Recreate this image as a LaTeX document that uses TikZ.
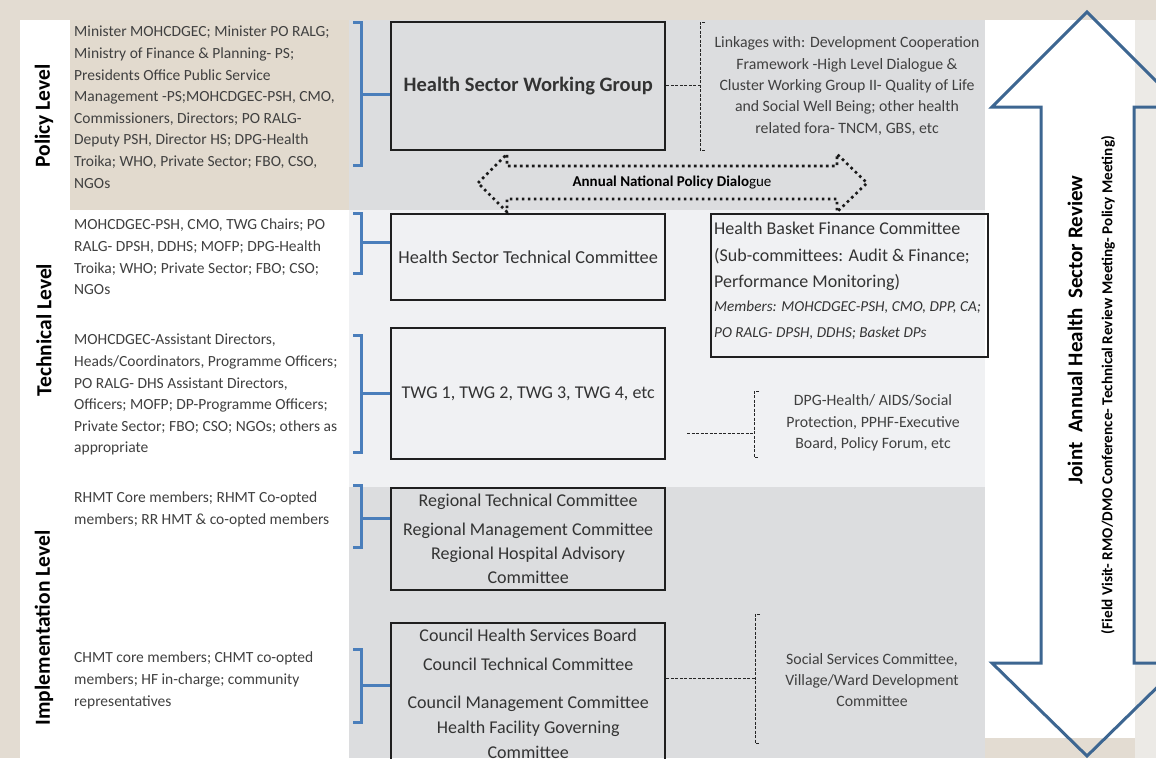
\documentclass[tikz,border=0pt]{standalone}
\usepackage{fontspec}
\setmainfont{Carlito}
\usetikzlibrary{positioning}

\definecolor{paper}{HTML}{E3DCD2}
\definecolor{photo}{HTML}{ECEAE6}
\definecolor{beige}{HTML}{E2DACE}
\definecolor{greyband}{HTML}{DCDDDF}
\definecolor{paleband}{HTML}{F0F1F3}
\definecolor{brkblue}{HTML}{4A7EBB}
\definecolor{arrowblue}{HTML}{3D6691}
\definecolor{ink}{HTML}{404040}

\begin{document}
\begin{tikzpicture}[x=1pt,y=-1pt,
  members/.style={anchor=north west,inner sep=0,align=left,text=ink,font=\fontsize{15.5}{21.6}\selectfont},
  level/.style={rotate=90,inner sep=0,font=\fontsize{21.5}{22}\selectfont\bfseries},
  forum/.style={draw=black!88,line width=2.4pt,anchor=north west,inner sep=0,minimum width=274pt,align=center,text=black!80},
  brk/.style={brkblue,line width=3pt},
  link/.style={black!85,thin,dash pattern=on 3pt off 1.5pt},
  linktext/.style={align=center,inner sep=0,text=ink,font=\fontsize{15.8}{21.4}\selectfont}]
  \useasboundingbox (0,0) rectangle (1156,758);
  % backdrop and the three level bands
  \fill[paper] (0,0) rectangle (1156,758);
  \fill[photo] (1135,20) rectangle (1156,758);
  \fill[white] (20,20) rectangle (70,758);
  \fill[beige] (70,20) rectangle (349,210);
  \fill[white] (70,210) rectangle (349,758);
  \fill[greyband] (349,20) rectangle (985,210);
  \fill[paleband] (349,210) rectangle (985,487);
  \fill[greyband] (349,487) rectangle (985,758);
  \fill[white] (985,20) rectangle (1135,738);

  % level names
  \node[level] (policy) at (44,116) {Policy Level};
  \node[level] (technical) at (44,330) {Technical Level};
  \node[level] (implementation) at (44,628) {Implementation Level};

  % who sits on what
  \node[members] (pm) at (74,26) {Minister MOHCDGEC; Minister PO RALG;\\Ministry of Finance \& Planning- PS;\\Presidents Office Public Service\\Management -PS;MOHCDGEC-PSH, CMO,\\Commissioners, Directors; PO RALG-\\Deputy PSH, Director HS; DPG-Health\\Troika; WHO, Private Sector; FBO, CSO,\\NGOs};
  \node[members] (tm1) at (74,219) {MOHCDGEC-PSH, CMO, TWG Chairs; PO\\RALG- DPSH, DDHS; MOFP; DPG-Health\\Troika; WHO; Private Sector; FBO; CSO;\\NGOs};
  \node[members] (tm2) at (74,334) {MOHCDGEC-Assistant Directors,\\Heads/Coordinators, Programme Officers;\\PO RALG- DHS Assistant Directors,\\Officers; MOFP; DP-Programme Officers;\\Private Sector; FBO; CSO; NGOs; others as\\appropriate};
  \node[members] (im1) at (74,492) {RHMT Core members; RHMT Co-opted\\members; RR HMT \& co-opted members};
  \node[members] (im2) at (74,652) {CHMT core members; CHMT co-opted\\members; HF in-charge; community\\representatives};

  % the forums
  \node[forum,minimum height=128pt,font=\fontsize{20.5}{22}\selectfont\bfseries] (hswg) at (390,21) {Health Sector Working Group};
  \node[forum,minimum height=86pt,font=\fontsize{18.3}{20}\selectfont] (hstc) at (390,213) {Health Sector Technical Committee};
  \node[forum,minimum height=131pt,font=\fontsize{18}{20}\selectfont] (twg) at (390,327) {TWG 1, TWG 2, TWG 3, TWG 4, etc};
  \node[forum,minimum height=102pt,font=\fontsize{18}{24}\selectfont] (rtc) at (390,487) {Regional Technical Committee\\[5pt]Regional Management Committee\\Regional Hospital Advisory\\Committee};
  \node[forum,minimum height=142pt,font=\fontsize{18}{25}\selectfont] (chsb) at (390,622) {Council Health Services Board\\[4pt]Council Technical Committee\\[13pt]Council Management Committee\\Health Facility Governing\\Committee};
  \node[draw=black!88,line width=2.4pt,anchor=north west,minimum width=277pt,minimum height=143pt,inner sep=0] (hbfc) at (710,213) {};
  \node[anchor=north west,align=left,inner sep=0,text=black!80,font=\fontsize{18}{26.5}\selectfont] (hbfctext) at (714,222) {Health Basket Finance Committee\\(Sub-committees: Audit \& Finance;\\Performance Monitoring)\\[-3pt]{\fontsize{15.2}{25}\selectfont\itshape Members: MOHCDGEC-PSH, CMO, DPP, CA;}\\{\fontsize{15.2}{25}\selectfont\itshape PO RALG- DPSH, DDHS; Basket DPs}};

  % blue brackets
  \foreach \nm/\ta/\tb/\ym in {p/22/165/94, t/213/273/242, w/335/452/393, r/485/547/518, c/649/722/685} {
    \draw[brk] (353,\ta) -- (361,\ta) -- (361,\tb) -- (353,\tb);
    \coordinate (brk\nm) at (361,\ym);
  }
  \draw[brk] (brkp) -- (brkp -| hswg.west);
  \draw[brk] (brkt) -- (brkt -| hstc.west);
  \draw[brk] (brkw) -- (brkw -| twg.west);
  \draw[brk] (brkr) -- (brkr -| rtc.west);
  \draw[brk] (brkc) -- (brkc -| chsb.west);

  % linkages
  \node[linktext] (lk1) at (847,86) {Linkages with: Development Cooperation\\Framework -High Level Dialogue \&\\Cluster Working Group II- Quality of Life\\and Social Well Being; other health\\related fora- TNCM, GBS, etc};
  \node[linktext] (lk2) at (873,423) {DPG-Health/ AIDS/Social\\Protection, PPHF-Executive\\Board, Policy Forum, etc};
  \node[linktext] (lk3) at (872,680) {Social Services Committee,\\Village/Ward Development\\Committee};
  \draw[link] (705,22) -- (700,22) -- (700,150) -- (705,150);
  \draw[link] (759,391) -- (754,391) -- (754,457) -- (759,457);
  \draw[link] (760,614) -- (755,614) -- (755,743) -- (760,743);
  \coordinate (lk1in) at (700,85);
  \coordinate (lk2in) at (754,433);
  \coordinate (lk2out) at (687,433);
  \coordinate (lk3in) at (755,678);
  \draw[link] (hswg.east |- lk1in) -- (lk1in);
  \draw[link] (lk2out) -- (lk2in);
  \draw[link] (chsb.east |- lk3in) -- (lk3in);

  % annual national policy dialogue
  \node[font=\fontsize{15}{16}\selectfont] (anpd) at (672,183) {\bfseries Annual National Policy Dialo\mdseries gue};
  \draw[line width=2.6pt,dash pattern=on 2.6pt off 3.4pt,black!90]
    (478,183) -- (507,154) -- (507,166) -- (837,166) -- (837,154) -- (867,183)
    -- (837,212) -- (837,199) -- (507,199) -- (507,212) -- cycle;

  % joint annual review arrow
  \draw[arrowblue,line width=3pt,line join=miter]
    (1087,12) -- (1182,107) -- (1134,107) -- (1134,663) -- (1182,663) -- (1087,756)
    -- (992,663) -- (1041,663) -- (1041,107) -- (992,107) -- cycle;
  \node[rotate=90,font=\fontsize{21}{21}\selectfont\bfseries] (jahsr) at (1075,330) {Joint\ \ Annual Health\ \ Sector Review};
  \node[rotate=90,font=\fontsize{15.2}{16}\selectfont\bfseries] (jahsrsub) at (1108,385) {(Field Visit- RMO/DMO Conference- Technical Review Meeting- Policy Meeting)};
\end{tikzpicture}
\end{document}
